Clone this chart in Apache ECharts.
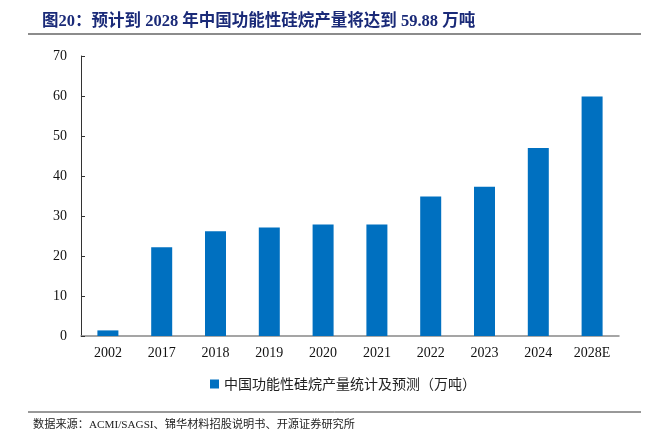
<!DOCTYPE html>
<html>
<head>
<meta charset="utf-8">
<script src="https://cdn.jsdelivr.net/npm/echarts@6/dist/echarts.min.js"></script>
<style>html,body{margin:0;padding:0;background:#fff;}#c{width:669px;height:444px;}</style>
</head>
<body>
<div id="c"></div>
<script>
const categories = ['2002','2017','2018','2019','2020','2021','2022','2023','2024','2028E'];
const values = [1.4, 22.2, 26.2, 27.1, 27.9, 27.9, 34.9, 37.3, 47.0, 59.88];
const yTicks = {min: 0, max: 70, interval: 10};
const seriesName = '中国功能性硅烷产量统计及预测（万吨）';
const titleText = '图20：预计到 2028 年中国功能性硅烷产量将达到 59.88 万吨';
const sourceText = '数据来源：ACMI/SAGSI、锦华材料招股说明书、开源证券研究所';

const chart = echarts.init(document.getElementById('c'));
const serif = '"Liberation Serif", "Noto Sans CJK SC", serif';
chart.setOption({
  animation: false,
  title: {
    text: titleText, left: 37, top: 8,
    textStyle: {fontSize: 16.5, fontWeight: 'bold', color: '#1a2a78', fontFamily: serif}
  },
  grid: {left: 81, right: 50, top: 56, bottom: 108},
  legend: {
    data: [seriesName], left: 205, top: 372,
    itemWidth: 9, itemHeight: 9, itemGap: 4,
    icon: 'rect',
    textStyle: {fontSize: 14, color: '#222', fontFamily: '"Noto Sans CJK SC", sans-serif'}
  },
  xAxis: {
    type: 'category', data: categories,
    axisLine: {lineStyle: {color: '#888', width: 1.5}},
    axisTick: {inside: true, length: 4, lineStyle: {color: '#333'}},
    axisLabel: {fontSize: 14, color: '#111', fontFamily: serif, margin: 10}
  },
  yAxis: {
    type: 'value', min: yTicks.min, max: yTicks.max, interval: yTicks.interval,
    axisLine: {show: true, lineStyle: {color: '#333', width: 1}},
    axisTick: {show: true, inside: true, length: 4, lineStyle: {color: '#333'}},
    splitLine: {show: false},
    axisLabel: {fontSize: 14, color: '#111', fontFamily: serif, margin: 14}
  },
  series: [{
    name: seriesName, type: 'bar', data: values, barWidth: 21,
    itemStyle: {color: '#0070c0'}
  }],
  graphic: [
    {type: 'line', shape: {x1: 28, y1: 34, x2: 641, y2: 34}, style: {stroke: '#666', lineWidth: 1.5}},
    {type: 'line', shape: {x1: 28, y1: 412, x2: 641, y2: 412}, style: {stroke: '#333', lineWidth: 1}},
    {type: 'text', left: 33, top: 419, style: {text: sourceText, fontSize: 11.2, fill: '#222', fontFamily: serif}}
  ]
});
</script>
</body>
</html>
